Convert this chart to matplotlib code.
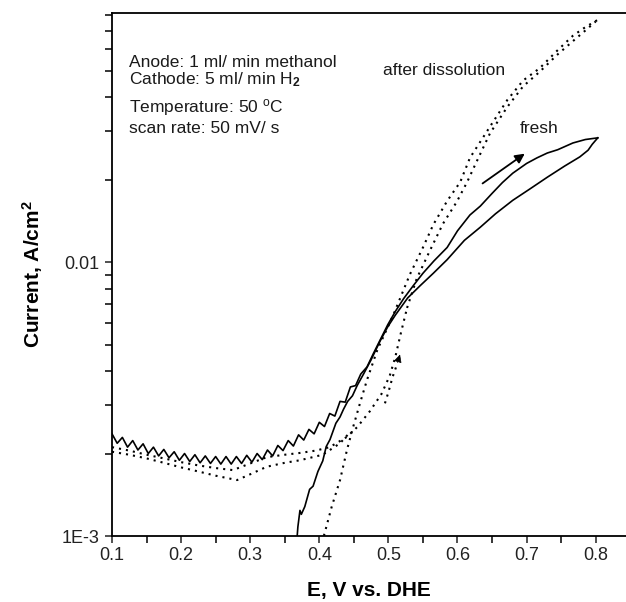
import matplotlib
matplotlib.use('Agg')
import matplotlib.pyplot as plt
from matplotlib.ticker import FixedLocator, FixedFormatter, LogLocator, MultipleLocator, NullFormatter

# fresh electrode, positive-going scan (V, A/cm2)
fresh_fwd_x = [0.100, 0.1075, 0.115, 0.1225, 0.130, 0.1375, 0.145, 0.1525, 0.160, 0.1675,
               0.175, 0.1825, 0.190, 0.1975, 0.205, 0.2125, 0.220, 0.2275, 0.235, 0.2425,
               0.250, 0.2575, 0.265, 0.2725, 0.280, 0.2875, 0.295, 0.3025, 0.310, 0.3175,
               0.325, 0.3325, 0.340, 0.3475, 0.355, 0.3625, 0.370, 0.3775, 0.385, 0.3925,
               0.400, 0.4075, 0.415, 0.4225, 0.430, 0.4375, 0.445, 0.4525, 0.460, 0.469,
               0.478, 0.488, 0.499, 0.510, 0.522, 0.536, 0.550, 0.566, 0.585, 0.600,
               0.618, 0.633, 0.650, 0.665, 0.680, 0.700, 0.715, 0.730, 0.745, 0.767,
               0.785, 0.803]
fresh_fwd_y = [0.00236, 0.00218, 0.00229, 0.00211, 0.00223, 0.00206, 0.00217, 0.00200, 0.00211, 0.00196,
               0.00207, 0.00193, 0.00203, 0.00189, 0.00200, 0.00187, 0.00198, 0.00185, 0.00196, 0.00184,
               0.00195, 0.00183, 0.00195, 0.00183, 0.00195, 0.00184, 0.00197, 0.00186, 0.00200, 0.00190,
               0.00206, 0.00196, 0.00214, 0.00205, 0.00223, 0.00213, 0.00234, 0.00224, 0.00245, 0.00236,
               0.00260, 0.00251, 0.00280, 0.00274, 0.00310, 0.00308, 0.00350, 0.00354, 0.00390, 0.00414,
               0.00462, 0.00519, 0.00590, 0.00660, 0.00735, 0.00820, 0.00910, 0.01010, 0.01130, 0.01300,
               0.01485, 0.01600, 0.01780, 0.01950, 0.02110, 0.02290, 0.02400, 0.02500, 0.02570, 0.02720,
               0.02800, 0.02840]

# fresh electrode, negative-going scan
fresh_rev_x = [0.803, 0.795, 0.789, 0.777, 0.755, 0.730, 0.705, 0.680, 0.655, 0.633,
               0.610, 0.585, 0.565, 0.546, 0.528, 0.510, 0.499, 0.488, 0.475, 0.464,
               0.455, 0.448, 0.441, 0.435, 0.430, 0.424, 0.4155, 0.410, 0.405, 0.398,
               0.391, 0.386, 0.379, 0.374, 0.372, 0.369, 0.368, 0.366]
fresh_rev_y = [0.02840, 0.02690, 0.02560, 0.02420, 0.02240, 0.02040, 0.01850, 0.01680, 0.01500, 0.01340,
               0.01200, 0.01020, 0.00910, 0.00820, 0.00740, 0.00640, 0.00580, 0.00515, 0.00440, 0.00390,
               0.00355, 0.00325, 0.00310, 0.00290, 0.00272, 0.00258, 0.00225, 0.00212, 0.00188, 0.00172,
               0.00152, 0.00148, 0.00128, 0.00120, 0.00124, 0.00108, 0.00100, 0.00093]

# after dissolution: low-potential branches
diss_a_x = [0.100, 0.125, 0.150, 0.175, 0.200, 0.225, 0.250, 0.275, 0.300, 0.324,
            0.350, 0.372, 0.395, 0.415, 0.440, 0.455, 0.473, 0.490, 0.502, 0.510,
            0.518, 0.527]
diss_a_y = [0.00211, 0.00205, 0.00198, 0.00192, 0.00186, 0.00181, 0.00177, 0.00174, 0.00184, 0.00194,
            0.00198, 0.00201, 0.00205, 0.00211, 0.00230, 0.00250, 0.00285, 0.00330, 0.00385, 0.00450,
            0.00550, 0.00680]
diss_b_x = [0.100, 0.125, 0.150, 0.175, 0.200, 0.225, 0.250, 0.281, 0.300, 0.324,
            0.350, 0.372, 0.405, 0.430, 0.445]
diss_b_y = [0.00203, 0.00198, 0.00192, 0.00185, 0.00178, 0.00172, 0.00166, 0.00160, 0.00168, 0.00179,
            0.00185, 0.00189, 0.00198, 0.00218, 0.00240]

# after dissolution: positive-going scan up to 0.8 V
diss_fwd_x = [0.527, 0.541, 0.560, 0.579, 0.599, 0.614, 0.625, 0.647, 0.672, 0.695,
              0.719, 0.744, 0.767, 0.785, 0.800]
diss_fwd_y = [0.00680, 0.00870, 0.01100, 0.01380, 0.01660, 0.01960, 0.02250, 0.02950, 0.03680, 0.04380,
              0.04950, 0.05700, 0.06400, 0.07000, 0.07550]

# after dissolution: negative-going scan
diss_rev_x = [0.802, 0.785, 0.767, 0.744, 0.719, 0.695, 0.672, 0.647, 0.618, 0.604,
              0.585, 0.565, 0.550, 0.531, 0.507, 0.484, 0.469, 0.459, 0.449, 0.440,
              0.430, 0.418, 0.408, 0.404]
diss_rev_y = [0.0763, 0.0720, 0.0670, 0.0590, 0.0510, 0.0460, 0.0390, 0.0312, 0.0240, 0.0196,
              0.0167, 0.01370, 0.01130, 0.00900, 0.00640, 0.00478, 0.00371, 0.00306, 0.00250, 0.00206,
              0.00160, 0.00128, 0.00103, 0.00095]

# start of the scan after dissolution
diss_start_x = [0.495, 0.500, 0.506, 0.512]
diss_start_y = [0.00305, 0.00335, 0.00380, 0.00420]

x_ticks = [0.1, 0.2, 0.3, 0.4, 0.5, 0.6, 0.7, 0.8]
y_ticks = [0.001, 0.01]
y_tick_labels = ['1E-3', '0.01']

plt.rcParams['font.family'] = ['Liberation Sans', 'DejaVu Sans']
plt.rcParams['mathtext.fontset'] = 'custom'
plt.rcParams['mathtext.rm'] = 'Liberation Sans'
plt.rcParams['mathtext.it'] = 'Liberation Sans:italic'
plt.rcParams['mathtext.bf'] = 'Liberation Sans:bold'

fig = plt.figure(figsize=(6.26, 6.02), dpi=100)
ax = fig.add_axes([112 / 626, 66 / 602, 514 / 626, 523 / 602])

dots = (0, (1, 2.4))
ax.plot(fresh_fwd_x, fresh_fwd_y, color='black', lw=1.2)
ax.plot(fresh_rev_x, fresh_rev_y, color='black', lw=1.2)
for xs, ys in [(diss_a_x, diss_a_y), (diss_b_x, diss_b_y), (diss_fwd_x, diss_fwd_y),
               (diss_rev_x, diss_rev_y), (diss_start_x, diss_start_y)]:
    ax.plot(xs, ys, color='black', lw=1.5, linestyle=dots)

ax.set_yscale('log')
ax.set_xlim(0.1, 0.1 + 514 / 691)
ax.set_ylim(1e-3, 10 ** -1.091)

ax.xaxis.set_major_locator(FixedLocator(x_ticks))
ax.xaxis.set_minor_locator(MultipleLocator(0.05))
ax.yaxis.set_major_locator(FixedLocator(y_ticks))
ax.yaxis.set_major_formatter(FixedFormatter(y_tick_labels))
ax.yaxis.set_minor_locator(LogLocator(base=10, subs=range(2, 10)))
ax.yaxis.set_minor_formatter(NullFormatter())
ax.tick_params(which='both', direction='out', length=5, width=1.1, top=False, right=False)
ax.tick_params(axis='both', labelsize=13, colors='#222222', labelcolor='#222222')
ax.tick_params(axis='x', pad=3)
ax.tick_params(axis='y', pad=4)

ax.spines['right'].set_visible(False)
for s in ['left', 'bottom', 'top']:
    ax.spines[s].set_linewidth(1.3)

ax.set_xlabel('E, V vs. DHE', fontsize=15, fontweight='bold', labelpad=12)
ax.set_ylabel(r'Current, A/cm$^\mathbf{2}$', fontsize=15, fontweight='bold', labelpad=12)

txt = dict(transform=ax.transAxes, fontsize=12.5, va='center', ha='left', color='#1a1a1a')
ax.text(0.033, 0.906, 'Anode: 1 ml/ min methanol', **txt)
ax.text(0.033, 0.872, r'Cathode: 5 ml/ min H$_\mathbf{2}$', **txt)
ax.text(0.033, 0.820, r'Temperature: 50 $^\mathrm{o}$C', **txt)
ax.text(0.033, 0.780, 'scan rate: 50 mV/ s', **txt)
ax.text(0.527, 0.891, 'after dissolution', **txt)
ax.text(0.794, 0.780, 'fresh', **txt)

ax.annotate('', xy=(0.7006, 0.0252), xytext=(0.633, 0.0191),
            arrowprops=dict(arrowstyle='-|>', color='black', lw=1.3, mutation_scale=14))
ax.annotate('', xy=(0.518, 0.0047), xytext=(0.512, 0.0042),
            arrowprops=dict(arrowstyle='-|>', color='black', lw=0.5, mutation_scale=12))

fig.savefig('out.png', dpi=100)
